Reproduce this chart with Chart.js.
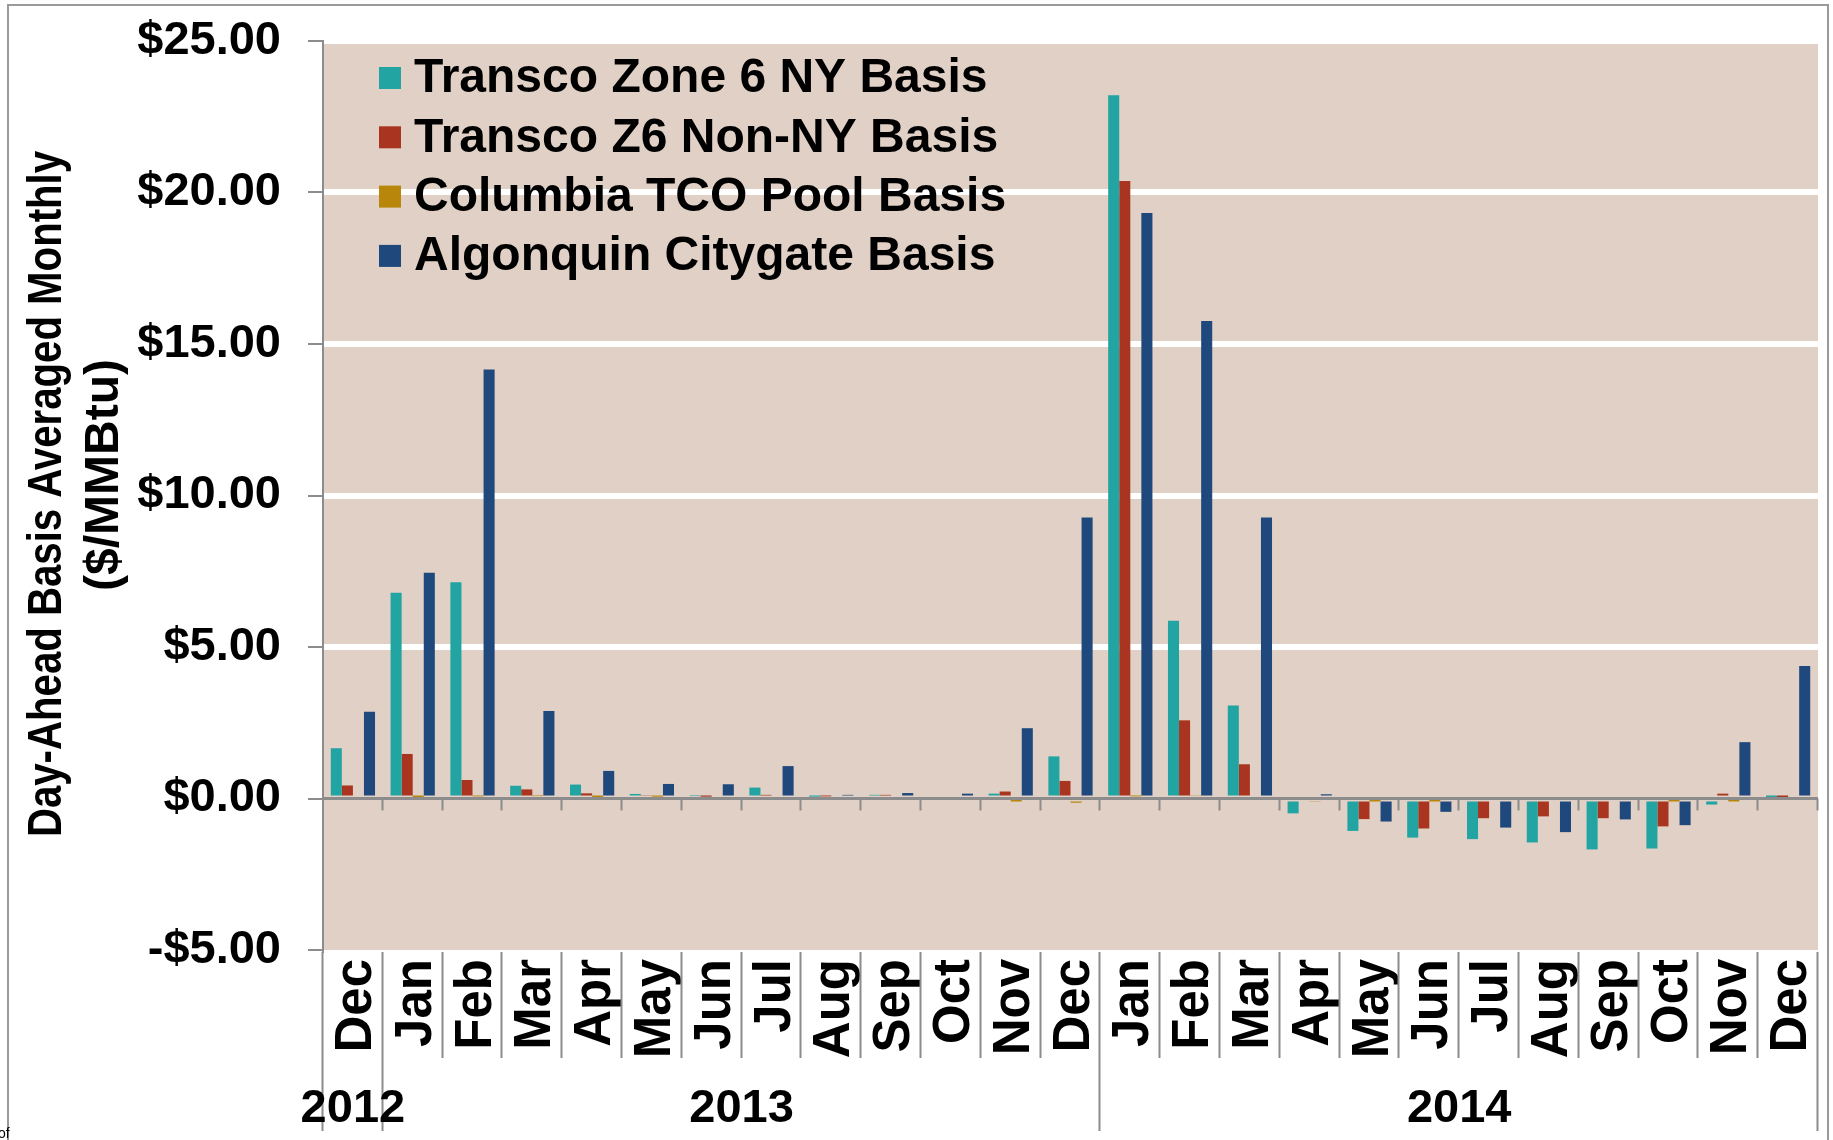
<!DOCTYPE html>
<html>
<head>
<meta charset="utf-8">
<script src="https://cdn.jsdelivr.net/npm/chart.js@4.4.1/dist/chart.umd.min.js"></script>
<style>
html,body{margin:0;padding:0;background:#fff;}
canvas{display:block;}
</style>
</head>
<body>
<canvas id="c" width="1833" height="1140"></canvas>
<script>
// ---- data ----
const months = ['Dec','Jan','Feb','Mar','Apr','May','Jun','Jul','Aug','Sep','Oct','Nov','Dec',
                'Jan','Feb','Mar','Apr','May','Jun','Jul','Aug','Sep','Oct','Nov','Dec'];
const years = ['2012','2013','2014'];
const yearStart = [0, 1, 13];
const yearEnd = [1, 13, 25];
const seriesNames = ['Transco Zone 6 NY Basis','Transco Z6 Non-NY Basis','Columbia TCO Pool Basis','Algonquin Citygate Basis'];
const transcoNY    = [1.66, 6.79, 7.14, 0.42, 0.46, 0.15, 0.08, 0.36, 0.06, 0.12, 0.00, 0.16, 1.39,
                      23.21, 5.87, 3.07, -0.49, -1.07, -1.29, -1.34, -1.45, -1.68, -1.65, -0.20, 0.05];
const transcoNonNY = [0.43, 1.47, 0.61, 0.30, 0.17, 0.09, 0.06, 0.12, 0.07, 0.12, 0.00, 0.23, 0.58,
                      20.38, 2.58, 1.13, 0.00, -0.68, -0.99, -0.65, -0.59, -0.65, -0.92, 0.16, 0.05];
const columbiaTCO  = [0.00, 0.02, 0.07, 0.08, 0.05, 0.06, 0.00, 0.00, 0.00, 0.00, 0.00, -0.02, -0.14,
                      0.07, 0.09, 0.00, -0.09, -0.01, -0.05, 0.00, 0.00, 0.00, -0.05, -0.05, 0.00];
const algonquin    = [2.86, 7.45, 14.16, 2.89, 0.91, 0.48, 0.47, 1.07, 0.12, 0.18, 0.16, 2.32, 9.27,
                      19.32, 15.76, 9.27, 0.14, -0.76, -0.44, -0.96, -1.11, -0.69, -0.88, 1.86, 4.37];
const yMin = -5, yMax = 25, yStep = 5;
const yTitle = ['Day-Ahead Basis Averaged Monthly', '($/MMBtu)'];

// ---- styles ----
const colors = ['#22A5A2', '#A9341F', '#B8860B', '#1F497D'];
const FONT = "'Liberation Sans', Arial, Helvetica, sans-serif";
const GREY = '#8C8C8C';

const deco = {
  id: 'deco',
  beforeDraw(chart) {
    const {ctx, chartArea: a} = chart;
    ctx.save();
    ctx.fillStyle = '#fff';
    ctx.fillRect(0, 0, chart.width, chart.height);
    ctx.fillStyle = '#E0D0C5';
    ctx.fillRect(a.left, a.top + 3, a.right - a.left, a.bottom - a.top - 3);
    ctx.restore();
  },
  afterDatasetsDraw(chart) {
    const {ctx, chartArea: a, scales} = chart;
    const y0 = scales.y.getPixelForValue(0);
    const w = (a.right - a.left) / months.length;
    ctx.save();
    ctx.strokeStyle = GREY;
    ctx.lineWidth = 3;
    ctx.beginPath();
    ctx.moveTo(a.left, y0); ctx.lineTo(a.right, y0);
    ctx.stroke();
    ctx.lineWidth = 2;
    ctx.beginPath();
    for (let k = 1; k <= months.length; k++) {
      const x = Math.round(a.left + k * w) - 0.5;
      ctx.moveTo(x, y0); ctx.lineTo(x, y0 + 12);
    }
    ctx.stroke();
    ctx.restore();
  },
  afterDraw(chart) {
    const {ctx, chartArea: a} = chart;
    const w = (a.right - a.left) / months.length;
    ctx.save();
    // outer frame
    ctx.strokeStyle = '#9A9A9A';
    ctx.lineWidth = 2;
    ctx.strokeRect(8, 5, 1820, 1140);
    // category separators
    ctx.strokeStyle = GREY;
    ctx.lineWidth = 2;
    const yearB = new Set([...yearStart, months.length]);
    ctx.beginPath();
    for (let k = 0; k <= months.length; k++) {
      const x = Math.round(a.left + k * w) - 0.5;
      ctx.moveTo(x, a.bottom + 2);
      ctx.lineTo(x, yearB.has(k) ? 1131 : 1058);
    }
    ctx.stroke();
    // year labels
    ctx.fillStyle = '#000';
    ctx.font = 'bold 47px ' + FONT;
    ctx.textAlign = 'center';
    ctx.textBaseline = 'middle';
    years.forEach((yr, i) => {
      const cx = a.left + (yearStart[i] + yearEnd[i]) / 2 * w;
      ctx.fillText(yr, cx, 1109);
    });
    // y axis title
    const titlePos = [[47, 494], [104, 475]];
    const titleScale = [0.82, 0.98];
    ctx.font = 'bold 49px ' + FONT;
    yTitle.forEach((t, i) => {
      ctx.save();
      ctx.translate(titlePos[i][0], titlePos[i][1]);
      ctx.rotate(-Math.PI / 2);
      ctx.scale(titleScale[i], 1);
      ctx.fillText(t, 0, 0);
      ctx.restore();
    });
    // legend
    ctx.font = 'bold 48px ' + FONT;
    ctx.textAlign = 'left';
    chart.data.datasets.forEach((ds, i) => {
      const cy = 78 + i * 59.3;
      ctx.fillStyle = ds.backgroundColor;
      ctx.fillRect(379, cy - 11, 22, 22);
      ctx.fillStyle = '#000';
      ctx.fillText(ds.label, 414, cy + 1);
    });
    // clipped footnote fragment
    ctx.font = '14px ' + FONT;
    ctx.textBaseline = 'alphabetic';
    ctx.fillText('of', -2, 1138);
    ctx.restore();
  }
};

const seriesData = [transcoNY, transcoNonNY, columbiaTCO, algonquin];

new Chart(document.getElementById('c'), {
  type: 'bar',
  data: {
    labels: months,
    datasets: seriesData.map((d, i) => ({
      label: seriesNames[i],
      data: d,
      backgroundColor: colors[i],
      borderWidth: 0
    }))
  },
  options: {
    responsive: false,
    animation: false,
    devicePixelRatio: 1,
    layout: { padding: { top: 41, right: 15, bottom: 0, left: 0 } },
    datasets: { bar: { categoryPercentage: 0.74, barPercentage: 1.0 } },
    plugins: { legend: { display: false }, tooltip: { enabled: false } },
    scales: {
      x: {
        grid: { display: false },
        border: { display: false },
        ticks: {
          autoSkip: false, minRotation: 90, maxRotation: 90, padding: 1, labelOffset: 4,
          color: '#000', font: { family: FONT, size: 51, weight: 'bold' }
        },
        afterFit(s) { s.height = 190; s.paddingLeft = 0; s.paddingRight = 0; }
      },
      y: {
        min: yMin, max: yMax,
        ticks: {
          stepSize: yStep, padding: 27, color: '#000',
          font: { family: FONT, size: 47, weight: 'bold' },
          callback: v => (v < 0 ? '-$' : '$') + Math.abs(v).toFixed(2)
        },
        grid: {
          color: c => (c.tick && c.tick.value > 0 && c.tick.value < yMax) ? '#FFFFFF' : 'rgba(0,0,0,0)',
          lineWidth: 6,
          tickColor: GREY, tickWidth: 2, tickLength: 15
        },
        border: { display: true, color: GREY, width: 2 },
        afterFit(s) { s.width = 323; s.paddingTop = 0; s.paddingBottom = 0; }
      }
    }
  },
  plugins: [deco]
});
</script>
</body>
</html>
